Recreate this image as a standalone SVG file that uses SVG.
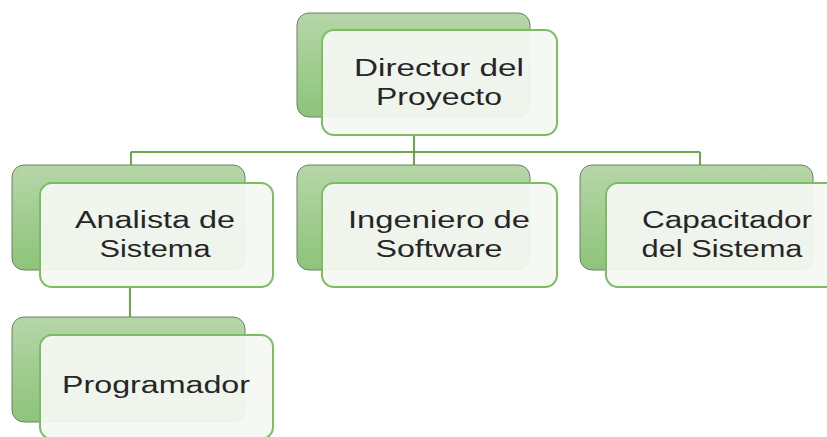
<svg xmlns="http://www.w3.org/2000/svg" width="827" height="437" viewBox="0 0 827 437">
<defs>
<linearGradient id="g" x1="0" y1="0" x2="0" y2="1">
<stop offset="0" stop-color="#b6d6a8"/>
<stop offset="1" stop-color="#8dc47a"/>
</linearGradient>
</defs>
<style>
.back{fill:url(#g);stroke:#6f8068;stroke-width:1}
.front{fill:#f4f8f2;fill-opacity:0.94;stroke:#7dbd62;stroke-width:2}
.t{font-family:"Liberation Sans",Arial,sans-serif;font-size:23px;fill:#262626;text-anchor:middle}
.c{stroke:#6aa84f;stroke-width:2;fill:none}
</style>
<rect width="827" height="437" fill="#ffffff"/>
<g id="connectors">
<path class="c" d="M414 135V152M131 152H700M131 152V165M414 152V165M700 152V165M130 287V317"/>
</g>
<g id="director">
<rect class="back" x="297" y="13" width="233" height="104" rx="12"/>
<rect class="front" x="322" y="30" width="235" height="105" rx="12"/>
<text class="t" x="439" y="76" textLength="170" lengthAdjust="spacingAndGlyphs">Director del</text>
<text class="t" x="439" y="105" textLength="126" lengthAdjust="spacingAndGlyphs">Proyecto</text>
</g>
<g id="analista">
<rect class="back" x="12" y="165" width="233" height="105" rx="12"/>
<rect class="front" x="40" y="183" width="233" height="104" rx="12"/>
<text class="t" x="155" y="228" textLength="160" lengthAdjust="spacingAndGlyphs">Analista de</text>
<text class="t" x="155" y="257" textLength="111" lengthAdjust="spacingAndGlyphs">Sistema</text>
</g>
<g id="ingeniero">
<rect class="back" x="297" y="165" width="233" height="105" rx="12"/>
<rect class="front" x="322" y="183" width="235" height="104" rx="12"/>
<text class="t" x="439" y="228" textLength="182" lengthAdjust="spacingAndGlyphs">Ingeniero de</text>
<text class="t" x="439" y="257" textLength="127" lengthAdjust="spacingAndGlyphs">Software</text>
</g>
<g id="capacitador">
<rect class="back" x="580" y="165" width="233" height="105" rx="12"/>
<rect class="front" x="606" y="183" width="235" height="104" rx="12"/>
<text class="t" x="727" y="228" textLength="170" lengthAdjust="spacingAndGlyphs">Capacitador</text>
<text class="t" x="722" y="257" textLength="161" lengthAdjust="spacingAndGlyphs">del Sistema</text>
</g>
<g id="programador">
<rect class="back" x="12" y="317" width="233" height="105" rx="12"/>
<rect class="front" x="40" y="335" width="233" height="104" rx="12"/>
<text class="t" x="156" y="393" textLength="188" lengthAdjust="spacingAndGlyphs">Programador</text>
</g>
</svg>
